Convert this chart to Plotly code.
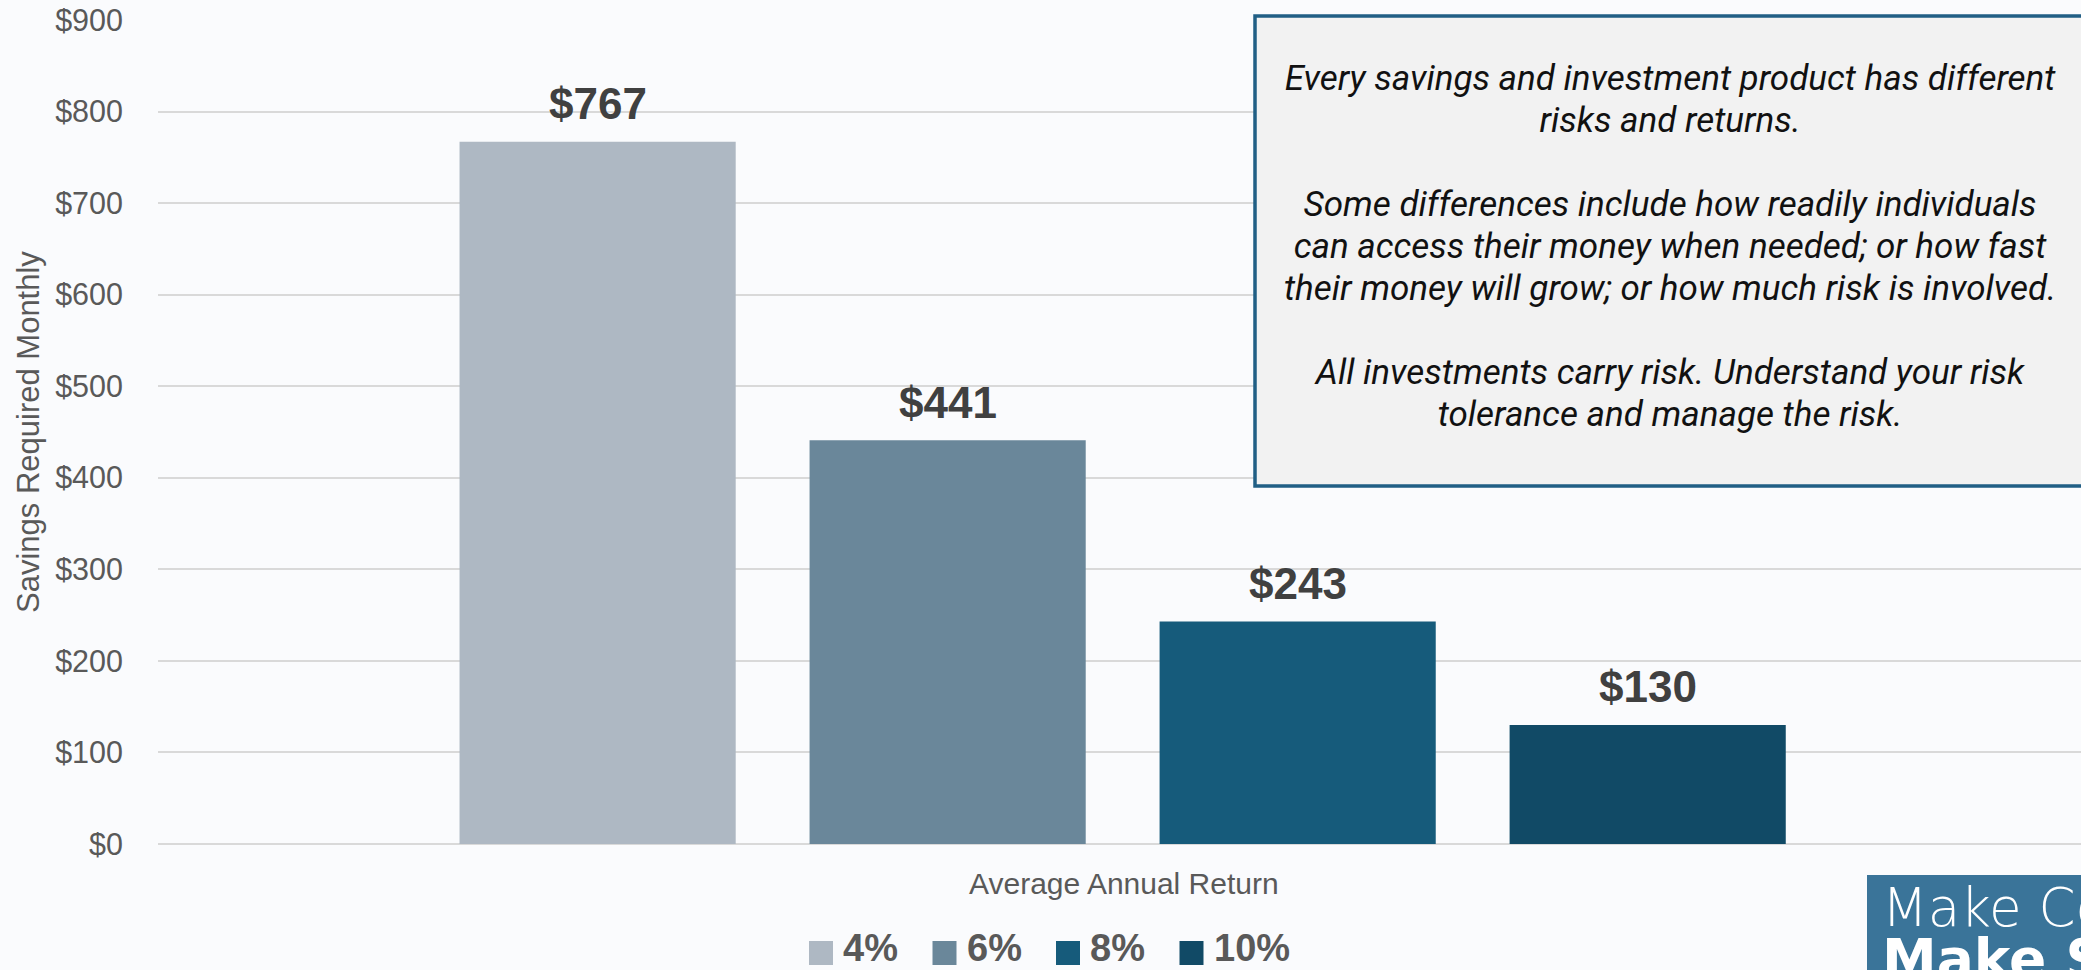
import plotly.graph_objects as go

# ---- data ----
series_names = ["4%", "6%", "8%", "10%"]
monthly_savings = [767, 441, 243, 130]
bar_colors = ["#AEB8C3", "#6A879A", "#165B7B", "#114A66"]
y_ticks = [0, 100, 200, 300, 400, 500, 600, 700, 800, 900]
y_tick_labels = ["$" + str(v) for v in y_ticks]
y_title = "Savings Required Monthly"
x_title = "Average Annual Return"
note_lines = [
    "Every savings and investment product has different",
    "risks and returns.",
    "",
    "Some differences include how readily individuals",
    "can access their money when needed; or how fast",
    "their money will grow; or how much risk is involved.",
    "",
    "All investments carry risk. Understand your risk",
    "tolerance and manage the risk.",
]
logo_lines = ["Make Cents", "Make Sense"]

# ---- layout geometry (pixels) ----
W, H = 2081, 970
ML, MR, MT, MB = 158, 0, 20, 126
PW = W - ML - MR
PH = H - MT - MB


def px_x(x):
    return (x - ML) / PW


def px_y(y):
    return (H - MB - y) / PH


BG = "#FAFBFD"
TXT = "#595959"

fig = go.Figure()
for name, val, col in zip(series_names, monthly_savings, bar_colors):
    fig.add_trace(go.Bar(
        x=[name], y=[val], name=name,
        marker=dict(color=col, line=dict(width=0)),
        showlegend=False, hoverinfo="skip",
    ))

annotations = []
shapes = []

# data labels
for name, val in zip(series_names, monthly_savings):
    annotations.append(dict(
        x=name, y=val, xref="x", yref="y",
        text="<b>${:,.0f}</b>".format(val), showarrow=False,
        yanchor="middle", yshift=38,
        font=dict(family="Liberation Sans, Arial", size=44, color="#404040"),
    ))

# axis titles
annotations.append(dict(
    x=px_x(28), y=0.5, xref="paper", yref="paper", text=y_title,
    textangle=-90, showarrow=False, xanchor="center", yanchor="middle",
    font=dict(family="Liberation Sans, Arial", size=31, color=TXT),
))
annotations.append(dict(
    x=px_x(1124), y=px_y(883), xref="paper", yref="paper", text=x_title,
    showarrow=False, xanchor="center", yanchor="middle",
    font=dict(family="Liberation Sans, Arial", size=30, color=TXT),
))

# manual legend (large square swatches)
leg_x0, leg_step, sq = 809, 123.5, 24
leg_yc = 948
for i, (name, col) in enumerate(zip(series_names, bar_colors)):
    x0 = leg_x0 + i * leg_step
    shapes.append(dict(
        type="rect", xref="paper", yref="paper",
        x0=px_x(x0), x1=px_x(x0 + sq),
        y0=px_y(leg_yc + 5 + sq / 2), y1=px_y(leg_yc + 5 - sq / 2),
        fillcolor=col, line=dict(width=0), layer="above",
    ))
    annotations.append(dict(
        x=px_x(x0 + sq + 8), y=px_y(leg_yc), xref="paper", yref="paper",
        text="<b>" + name + "</b>", showarrow=False,
        xanchor="left", yanchor="middle",
        font=dict(family="Liberation Sans, Arial", size=38, color=TXT),
    ))

# note box
shapes.append(dict(
    type="rect", xref="paper", yref="paper",
    x0=px_x(1255), x1=px_x(2090), y0=px_y(486), y1=px_y(16),
    fillcolor="#F2F2F2", line=dict(color="#215F85", width=3.5), layer="above",
))
note_text = "<br>".join(
    '<span style="font-size:35px"><i>' + l + "</i></span>" if l else ""
    for l in note_lines
)
annotations.append(dict(
    x=px_x(1670), y=px_y(246), xref="paper", yref="paper",
    text=note_text,
    showarrow=False, xanchor="center", yanchor="middle", align="center",
    font=dict(family="Roboto", size=32.3, color="#111111"),
))

# logo block
shapes.append(dict(
    type="rect", xref="paper", yref="paper",
    x0=px_x(1867), x1=px_x(2100), y0=px_y(1000), y1=px_y(875),
    fillcolor="#3A7499", line=dict(width=0), layer="above",
))
logo_text = (
    '<span style="font-size:53px;font-weight:300">' + logo_lines[0] + "</span><br>"
    '<span style="font-size:55px;font-weight:bold">' + logo_lines[1] + "</span>"
)
annotations.append(dict(
    x=px_x(1880), y=px_y(875), xref="paper", yref="paper", text=logo_text,
    showarrow=False, xanchor="left", yanchor="top", align="left",
    font=dict(family="DejaVu Sans", size=40, color="white"),
))

fig.update_layout(
    width=W, height=H,
    margin=dict(l=ML, r=MR, t=MT, b=MB, pad=0),
    paper_bgcolor=BG, plot_bgcolor=BG,
    barmode="overlay", bargap=0.211,
    showlegend=False,
    annotations=annotations, shapes=shapes,
    xaxis=dict(
        type="category", categoryorder="array", categoryarray=series_names,
        range=[-1.256, 4.238], showticklabels=False, showgrid=False,
        zeroline=False, showline=False, ticks="", fixedrange=True,
    ),
    yaxis=dict(
        range=[0, 900], tickvals=y_ticks, ticktext=y_tick_labels,
        showgrid=True, gridcolor="#D9D9D9", gridwidth=2,
        zeroline=True, zerolinecolor="#D9D9D9", zerolinewidth=2,
        showline=False, ticks="", ticklabelstandoff=34,
        tickfont=dict(family="Liberation Sans, Arial", size=30.5, color=TXT),
        fixedrange=True,
    ),
)

fig.write_html(
    "out.html",
    config={"displayModeBar": False},
    post_script="document.body.style.margin='0';",
)
